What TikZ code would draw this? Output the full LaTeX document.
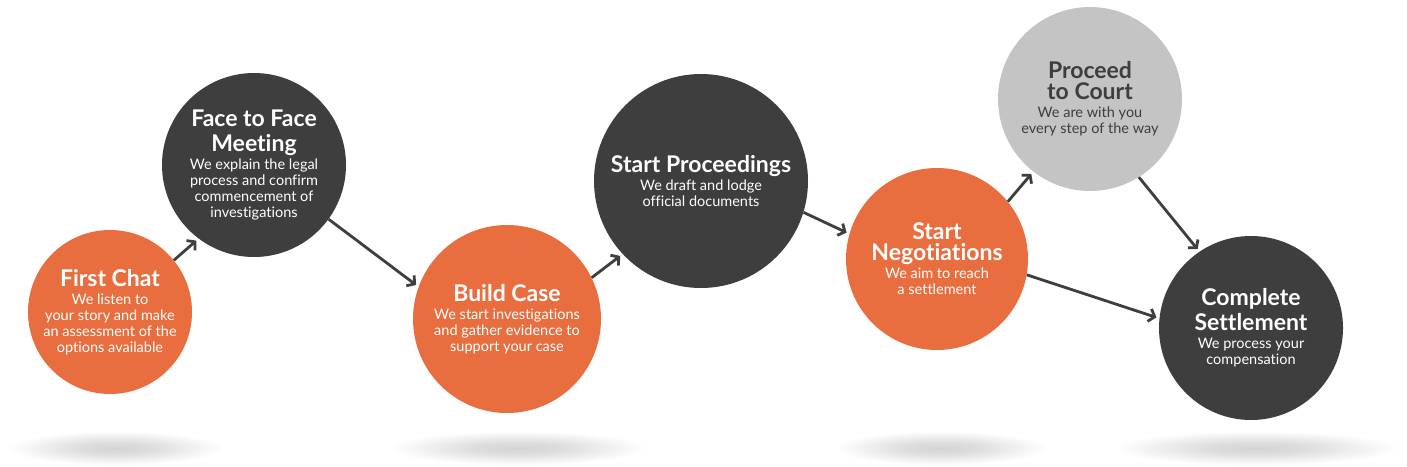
\documentclass[tikz,border=0pt]{standalone}
\usepackage{fontspec}
\setmainfont{Lato}[Ligatures={NoCommon}]
\usetikzlibrary{arrows.meta}
\definecolor{orng}{RGB}{232,110,64}
\definecolor{dgray}{RGB}{62,62,62}
\definecolor{lgray}{RGB}{196,196,196}
\pgfdeclareradialshading{floorshadow}{\pgfpoint{0bp}{0bp}}{color(0bp)=(black!17); color(9bp)=(black!13); color(25bp)=(white); color(50bp)=(white)}
\newcommand{\ttl}[1]{{\fontsize{23}{25}\selectfont\bfseries #1}}
\begin{document}
\begin{tikzpicture}[x=1pt,y=-1pt,
  stage/.style={circle, inner sep=0pt, text=white, align=center,
    font=\fontsize{14.5}{16}\selectfont},
  orangestage/.style={stage, fill=orng},
  darkstage/.style={stage, fill=dgray},
  lightstage/.style={stage, fill=lgray, text=dgray},
  flow/.style={draw=dgray, line width=2.8pt,
    -{Straight Barb[length=5.5pt,width=13pt,line width=2.8pt]}, shorten >=3pt}
]
\useasboundingbox (0,0) rectangle (1407,466);
\fill[white] (0,0) rectangle (1407,466);

% floor shadows
\shade[shading=floorshadow] (116,448) ellipse [x radius=107, y radius=17];
\shade[shading=floorshadow] (518,448) ellipse [x radius=128, y radius=17];
\shade[shading=floorshadow] (941,448) ellipse [x radius=106, y radius=17];
\shade[shading=floorshadow] (1256,448) ellipse [x radius=142, y radius=17];

% stages
\node[orangestage, minimum size=164pt] (chat) at (110,312)
  {\ttl{First Chat}\\[2pt] We listen to\\ your story and make\\ an assessment of the\\ options available};
\node[darkstage, minimum size=184pt] (meet) at (254,165)
  {\ttl{Face to Face}\\[6pt] \ttl{Meeting}\\[2pt] We explain the legal\\ process and confirm\\ commencement of\\ investigations};
\node[orangestage, minimum size=188pt] (build) at (507,319)
  {\ttl{Build Case}\\[2pt] We start investigations\\ and gather evidence to\\ support your case};
\node[darkstage, minimum size=214pt] (proc) at (701,181)
  {\ttl{Start Proceedings}\\[2pt] We draft and lodge\\ official documents};
\node[orangestage, minimum size=182pt] (nego) at (937,259)
  {\ttl{Start}\\[3pt] \ttl{Negotiations}\\[2pt] We aim to reach\\ a settlement};
\node[lightstage, minimum size=184pt] (court) at (1090,99)
  {\ttl{Proceed}\\[3pt] \ttl{to Court}\\[2pt] We are with you\\ every step of the way};
\node[darkstage, minimum size=184pt] (done) at (1251,328)
  {\ttl{Complete}\\[3pt] \ttl{Settlement}\\[2pt] We process your\\ compensation};

% connectors
\draw[flow] (chat.39) -- (meet.233);
\draw[flow] (meet.-36) -- (build.160);
\draw[flow] (build.26) -- (proc.223);
\draw[flow] (proc.-17) -- (nego.164);
\draw[flow] (nego.39) -- (court.232);
\draw[flow] (court.-58) -- (done.124);
\draw[flow] (nego.-10) -- (done.174);
\end{tikzpicture}
\end{document}
